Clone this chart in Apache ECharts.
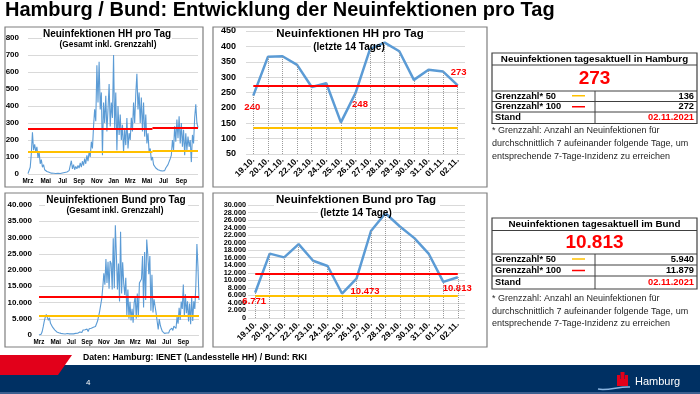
<!DOCTYPE html>
<html><head><meta charset="utf-8">
<script src="https://cdn.jsdelivr.net/npm/echarts@6/dist/echarts.min.js"></script>
<style>html,body{margin:0;padding:0;background:#fff;}#c{width:700px;height:394px;}</style>
</head><body><div id="c"></div>
<script>
// ---------- DATA ----------
// Hamburg, new infections per day, sampled every 4 days from 01.03.2020
const hhFullValues = [
  2, 8, 40, 120, 245, 140, 175, 130,
  160, 95, 130, 60, 85, 40, 55, 25,
  35, 15, 25, 10, 15, 5, 10,
  4, 8, 3, 6, 4, 7, 3, 5,
  6, 4, 9, 5, 12, 8, 20, 15,
  78, 30, 55, 25, 45, 30, 50,
  35, 65, 40, 75, 50, 90, 60, 110,
  75, 130, 100, 190, 150, 280, 380, 310,
  640, 420, 660, 380, 480, 110, 420,
  300, 460, 250, 380, 530, 280, 420, 330,
  700, 260, 480, 140, 400, 230, 350, 200,
  290, 130, 260, 170, 330, 150, 240,
  200, 330, 250, 420, 300, 470, 590,
  380, 480, 300, 450, 250, 420, 220, 350,
  180, 240, 130, 150, 80, 100, 55, 60,
  35, 45, 25, 35, 20, 28, 18,
  25, 20, 35, 28, 55, 45, 90, 110,
  200, 140, 280, 190, 320, 210, 340, 180,
  300, 160, 260, 110, 240, 140, 220,
  160, 200, 70, 230, 180, 330, 410, 300,
  273
];
// Germany, new infections per day, same sampling
const bundFullValues = [
  20, 60, 250, 1000, 2500, 4200, 5500, 6300,
  5900, 4500, 5300, 3600, 4000, 2400, 2700, 1600,
  1500, 950, 1200, 700, 850, 500, 650,
  400, 550, 300, 650, 450, 550, 350, 500,
  400, 550, 350, 600, 500, 750, 550, 850,
  900, 1200, 800, 1500, 1100, 1600, 1200,
  1800, 1100, 1900, 1400, 2100, 1500, 2400, 1800,
  2600, 2100, 4300, 4100, 7300, 6800, 11200, 14700,
  19000, 15500, 23400, 16000, 22500, 14200, 22800,
  22000, 14000, 29800, 14400, 33800, 24500, 14000, 22000,
  10300, 31800, 12800, 22400, 15900, 12300, 17600, 6100,
  14000, 5000, 10200, 4500, 8100, 3800, 9900,
  11900, 5000, 12800, 5500, 16000, 15800, 17200,
  24300, 8500, 25500, 10800, 29400, 24900, 18700, 24300,
  7500, 18500, 6900, 11000, 11000, 6700, 6300, 1700,
  4900, 3000, 1900, 1100, 1300, 500, 900,
  600, 900, 600, 1500, 900, 2100, 1400, 2700,
  3000, 2000, 5500, 3500, 8400, 4600, 10300, 8000,
  15500, 5600, 12500, 6700, 10400, 4200, 9700,
  3300, 11600, 4300, 10400, 8000, 15500, 28000, 21000,
  10800
];
const fullStartUTC = Date.UTC(2020, 2, 1);
const fullStepDays = 4;
const monthNames = ['Jan','Feb','Mrz','Apr','Mai','Jun','Jul','Aug','Sep','Okt','Nov','Dez'];
const labelledMonths = [0, 2, 4, 6, 8, 10];

// threshold lines of the long charts: [fromIndex, toIndex, value]
const hhLimit50Segments = [[0, 112, 132], [112, 153, 136]];
const hhLimit100Segments = [[0, 112, 264], [112, 153, 272]];
const bundLimit50Segments = [[0, 153, 5940]];
const bundLimit100Segments = [[0, 153, 11879]];

// last 14 days
const recentDays = ['19.10.','20.10.','21.10.','22.10.','23.10.','24.10.','25.10.','26.10.','27.10.','28.10.','29.10.','30.10.','31.10.','01.11.','02.11.'];
const hhRecent = [240, 366, 368, 340, 268, 280, 153, 248, 392, 412, 384, 291, 324, 318, 273];
const bundRecent = [6771, 17100, 16100, 19600, 15200, 13800, 6500, 10473, 23100, 27800, 24300, 21200, 17000, 9600, 10813];
const recentMarked = [0, 7, 14];

// tables
const hhToday = 273, hhGrenz50 = 136, hhGrenz100 = 272;
const bundToday = 10813, bundGrenz50 = 5940, bundGrenz100 = 11879;
const standDate = '02.11.2021';

// axis scales
const hhFullAxis = {min: 0, max: 800, interval: 100};
const bundFullAxis = {min: 0, max: 40000, interval: 5000};
const hhRecentAxis = {min: 50, max: 450, interval: 50};
const bundRecentAxis = {min: 0, max: 30000, interval: 2000};

// ---------- HELPERS ----------
const FF = '"Liberation Sans", Arial, Helvetica, sans-serif';
const RED = '#ff0000', YEL = '#ffc000', BLUE = '#5b9bd5', GRID = '#d9d9d9';
const fmtDE = v => String(v).replace(/\B(?=(\d{3})+(?!\d))/g, '.');

const fullCats = hhFullValues.map((_, i) => new Date(fullStartUTC + i * fullStepDays * 86400000).toISOString().slice(0, 10));
const monthOf = c => Number(c.slice(5, 7)) - 1;
const showFullLabel = i => i < fullCats.length - 1 &&
  (i === 0 || monthOf(fullCats[i]) !== monthOf(fullCats[i - 1])) && labelledMonths.includes(monthOf(fullCats[i]));

function segLines(segs, color, width) {
  return segs.map(s => [{coord: [fullCats[s[0]], s[2]], lineStyle: {color, width, type: 'solid'}}, {coord: [fullCats[s[1]], s[2]]}]);
}
function recentLimit(v, color) {
  return [{coord: [recentDays[0], v], lineStyle: {color, width: 2, type: 'solid'}}, {coord: [recentDays[recentDays.length - 1], v]}];
}
function dropLines(values, yMin) {
  return values.map((v, i) => [{coord: [recentDays[i], yMin]}, {coord: [recentDays[i], v]}]);
}
function markLineSeries(xi, data, z, lineStyle) {
  return {
    type: 'line', xAxisIndex: xi, yAxisIndex: xi, data: [], z, silent: true,
    markLine: Object.assign({silent: true, symbol: ['none', 'none'], label: {show: false}, animation: false,
      emphasis: {disabled: true}, data}, lineStyle ? {lineStyle} : {})
  };
}
function recentSeriesData(values, labelCfg) {
  return values.map((v, i) => {
    const k = recentMarked.indexOf(i);
    if (k < 0) return v;
    return {value: v, label: Object.assign({show: true, color: RED, fontWeight: 'bold', fontSize: 9.5, fontFamily: FF,
      formatter: p => fmtDE(p.value)}, labelCfg[k])};
  });
}
const yLab = (size, margin, fmt) => ({fontSize: size, fontWeight: 'bold', color: '#000', fontFamily: FF, margin,
  formatter: fmt, showMinLabel: true, showMaxLabel: true, hideOverlap: false});
const xFullLab = () => ({interval: i => showFullLabel(i), formatter: v => monthNames[monthOf(v)],
  fontSize: 6.3, fontWeight: 'bold', color: '#000', margin: 4, fontFamily: FF});
const xRecentLab = () => ({interval: 0, rotate: 45, fontSize: 8.5, fontWeight: 'bold', color: '#000', margin: 5, fontFamily: FF});

// ---------- GRAPHICS ----------
const G = [];
const txt = (x, y, text, font, fill, align, z) => G.push({type: 'text', silent: true, z: z || 10,
  style: {x, y, text, font: font + ' ' + FF, fill: fill || '#000', textAlign: align || 'left', align: align || 'left',
    textVerticalAlign: 'middle', verticalAlign: 'middle'}});
const rect = (x, y, w, h, fill, stroke, lw, z) => G.push({type: 'rect', silent: true, z: z || 10,
  shape: {x, y, width: w, height: h}, style: {fill: fill || 'none', stroke: stroke || 'none', lineWidth: lw || 0}});
const line = (x1, y1, x2, y2, stroke, lw, z) => G.push({type: 'line', silent: true, z: z || 10,
  shape: {x1, y1, x2, y2}, style: {stroke, lineWidth: lw}});

// main title
txt(5, 10.5, 'Hamburg / Bund: Entwicklung der Neuinfektionen pro Tag', 'bold 20px', '#000');
// panel frames
rect(5, 27, 198, 160, null, '#7f7f7f', 1.2);
rect(213, 27, 274, 160, null, '#7f7f7f', 1.2);
rect(5, 193, 198, 154, null, '#7f7f7f', 1.2);
rect(213, 193, 274, 154, null, '#7f7f7f', 1.2);
// chart titles with white backing
rect(42, 29, 130, 21, '#fff', null, 0, 1);
txt(107, 34, 'Neuinfektionen HH pro Tag', 'bold 10px', '#000', 'center');
txt(108, 45, '(Gesamt inkl. Grenzzahl)', 'bold 8.3px', '#000', 'center');
rect(45, 195, 143, 20, '#fff', null, 0, 1);
txt(116, 200, 'Neuinfektionen Bund pro Tag', 'bold 10px', '#000', 'center');
txt(115, 211, '(Gesamt inkl. Grenzzahl)', 'bold 8.3px', '#000', 'center');
rect(273, 28, 154, 12, '#fff', null, 0, 1);
rect(311, 41, 76, 12, '#fff', null, 0, 1);
txt(350, 34, 'Neuinfektionen HH pro Tag', 'bold 11.5px', '#000', 'center');
txt(349, 47, '(letzte 14 Tage)', 'bold 10px', '#000', 'center');
rect(274, 194, 166, 12, '#fff', null, 0, 1);
rect(318, 208, 75, 11, '#fff', null, 0, 1);
txt(356, 200, 'Neuinfektionen Bund pro Tag', 'bold 11.5px', '#000', 'center');
txt(356, 213, '(letzte 14 Tage)', 'bold 10px', '#000', 'center');

// tables
function table(y0, rows, title, big, g50, g100) {
  const x0 = 492, w = 205, xm = 595, TB = '#404040';
  rect(x0, y0, w, rows[4] - y0, '#fff', TB, 1.2);
  [rows[0], rows[1], rows[2], rows[3]].forEach(y => line(x0, y, x0 + w, y, TB, 1));
  line(xm, rows[1], xm, rows[4], TB, 1);
  txt(x0 + w / 2, (y0 + rows[0]) / 2 + 0.3, title, 'bold 9.8px', '#000', 'center');
  txt(x0 + w / 2, (rows[0] + rows[1]) / 2 + 0.5, fmtDE(big), 'bold 19px', RED, 'center');
  const r1 = (rows[1] + rows[2]) / 2, r2 = (rows[2] + rows[3]) / 2, r3 = (rows[3] + rows[4]) / 2;
  txt(x0 + 3, r1, 'Grenzzahl* 50', 'bold 9.3px');
  txt(x0 + 3, r2, 'Grenzzahl* 100', 'bold 9.3px');
  txt(x0 + 3, r3, 'Stand', 'bold 9.3px');
  line(572, r1 - 0.5, 585, r1 - 0.5, YEL, 1.5);
  line(572, r2, 585, r2, RED, 1.5);
  txt(x0 + w - 3, r1, fmtDE(g50), 'bold 9.3px', '#000', 'right');
  txt(x0 + w - 3, r2, fmtDE(g100), 'bold 9.3px', '#000', 'right');
  txt(x0 + w - 3, r3, standDate, 'bold 9.3px', RED, 'right');
}
table(53, [65, 91, 101.5, 112, 123.5], 'Neuinfektionen tagesaktuell in Hamburg', hhToday, hhGrenz50, hhGrenz100);
table(218, [230.5, 254, 265, 276, 289], 'Neuinfektionen tagesaktuell im Bund', bundToday, bundGrenz50, bundGrenz100);

const foot = ['* Grenzzahl: Anzahl an Neuinfektionen für', 'durchschnittlich 7 aufeinander folgende Tage, um', 'entsprechende 7-Tage-Inzidenz zu erreichen'];
foot.forEach((t, i) => txt(492, 131 + i * 12.6, t, '9px', '#262626'));
foot.forEach((t, i) => txt(492, 299 + i * 12.3, t, '9px', '#262626'));

// footer
rect(0, 365, 700, 29, '#003063', null, 0, 5);
rect(0, 392, 700, 2, '#3b5f8f', null, 0, 6);
G.push({type: 'polygon', silent: true, z: 7, shape: {points: [[0, 355], [72, 355], [58, 375], [0, 375]]}, style: {fill: '#e2001a'}});
txt(83, 357.5, 'Daten: Hamburg: IENET (Landesstelle HH) / Bund: RKI', 'bold 8.7px', '#000');
txt(86, 382.5, '4', '8px', '#fff');
// Hamburg logo
rect(617, 379, 11, 7, '#e2001a', null, 0, 8);
rect(617, 375, 3, 5, '#e2001a', null, 0, 8);
rect(620.5, 372, 4, 8, '#e2001a', null, 0, 8);
rect(625, 375, 3, 5, '#e2001a', null, 0, 8);
G.push({type: 'bezierCurve', silent: true, z: 8, shape: {x1: 598, y1: 389, x2: 630, y2: 387, cpx1: 608, cpy1: 391, cpx2: 620, cpy2: 386}, style: {stroke: '#8ab4e0', lineWidth: 1.5, fill: 'none'}});
txt(635, 381.5, 'Hamburg', '11px', '#fff');

// ---------- OPTION ----------
const chart = echarts.init(document.getElementById('c'), null, {renderer: 'canvas'});
const option = {
  animation: false,
  textStyle: {fontFamily: FF},
  grid: [
    {left: 28, top: 38, width: 170, height: 136},
    {left: 246, top: 31, width: 219, height: 123},
    {left: 39, top: 205, width: 160, height: 130},
    {left: 248, top: 205, width: 217, height: 113}
  ],
  xAxis: [
    {type: 'category', gridIndex: 0, data: fullCats, boundaryGap: false, axisLine: {show: false}, axisTick: {show: false}, axisLabel: xFullLab()},
    {type: 'category', gridIndex: 1, data: recentDays, boundaryGap: true, axisLine: {show: false}, axisTick: {show: false}, axisLabel: xRecentLab()},
    {type: 'category', gridIndex: 2, data: fullCats, boundaryGap: false, axisLine: {show: false}, axisTick: {show: false}, axisLabel: xFullLab()},
    {type: 'category', gridIndex: 3, data: recentDays, boundaryGap: true, axisLine: {show: false}, axisTick: {show: false}, axisLabel: xRecentLab()}
  ],
  yAxis: [
    Object.assign({type: 'value', gridIndex: 0, axisLabel: yLab(8, 9), splitLine: {lineStyle: {color: GRID}}}, hhFullAxis),
    Object.assign({type: 'value', gridIndex: 1, axisLabel: yLab(9, 10), splitLine: {lineStyle: {color: GRID}}}, hhRecentAxis),
    Object.assign({type: 'value', gridIndex: 2, axisLabel: yLab(8, 7, fmtDE), splitLine: {lineStyle: {color: GRID}}}, bundFullAxis),
    Object.assign({type: 'value', gridIndex: 3, axisLabel: yLab(7.3, 2, fmtDE), splitLine: {lineStyle: {color: GRID}}}, bundRecentAxis)
  ],
  graphic: {elements: G},
  series: [
    // HH long
    {type: 'line', xAxisIndex: 0, yAxisIndex: 0, data: hhFullValues, symbol: 'none', z: 2, silent: true,
      lineStyle: {color: BLUE, width: 1.1}},
    markLineSeries(0, segLines(hhLimit100Segments, RED, 1.8).concat(segLines(hhLimit50Segments, YEL, 1.8)), 4),
    // HH recent
    markLineSeries(1, dropLines(hhRecent, hhRecentAxis.min), 1, {type: 'dotted', color: '#9a9a9a', width: 1}),
    markLineSeries(1, [recentLimit(hhGrenz100, RED), recentLimit(hhGrenz50, YEL)], 2),
    {type: 'line', xAxisIndex: 1, yAxisIndex: 1, z: 3, silent: true, symbol: 'circle', symbolSize: 1, showSymbol: true,
      itemStyle: {color: BLUE}, lineStyle: {color: BLUE, width: 2.5},
      data: recentSeriesData(hhRecent, [{position: 'bottom', offset: [-1, 1.5]}, {position: 'bottom', offset: [4.5, 1]}, {position: 'top', offset: [1, -2.5]}])},
    // Bund long
    {type: 'line', xAxisIndex: 2, yAxisIndex: 2, data: bundFullValues, symbol: 'none', z: 2, silent: true,
      lineStyle: {color: BLUE, width: 1.1}},
    markLineSeries(2, segLines(bundLimit100Segments, RED, 1.8).concat(segLines(bundLimit50Segments, YEL, 1.8)), 4),
    // Bund recent
    markLineSeries(3, dropLines(bundRecent, bundRecentAxis.min), 1, {type: 'dotted', color: '#9a9a9a', width: 1}),
    markLineSeries(3, [recentLimit(bundGrenz100, RED), recentLimit(bundGrenz50, YEL)], 2),
    {type: 'line', xAxisIndex: 3, yAxisIndex: 3, z: 3, silent: true, symbol: 'circle', symbolSize: 1, showSymbol: true,
      itemStyle: {color: BLUE}, lineStyle: {color: BLUE, width: 2.5},
      data: recentSeriesData(bundRecent, [{position: 'bottom', offset: [-1, -2]}, {position: 'bottom', offset: [8.6, 2.6]}, {position: 'bottom', offset: [-0.6, 1]}])}
  ]
};
chart.setOption(option);
</script></body></html>
